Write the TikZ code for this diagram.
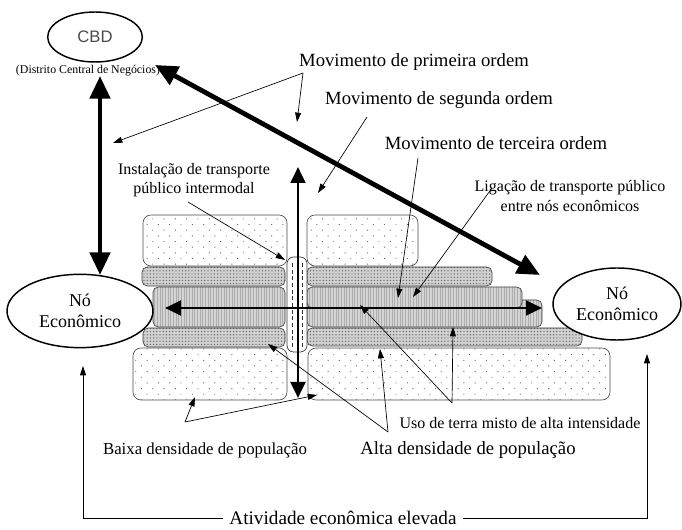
\documentclass[tikz,border=0pt]{standalone}
\usepackage{fontspec}
\setmainfont{Liberation Serif}
\newfontfamily\cbdfont{Liberation Sans}
\usetikzlibrary{shapes,arrows.meta,patterns.meta}
\tikzstyle{lowblock} = [draw=black!70, line width=0.5pt, rounded corners=6pt,
   preaction={fill=white}, pattern={Dots[distance=6pt,radius=0.5pt,angle=45]},
   pattern color=black!60]
\tikzstyle{denseblock} = [draw=black!75, line width=0.5pt, rounded corners=4pt,
   preaction={fill=black!18}, pattern={Dots[distance=2.4pt,radius=0.55pt]},
   pattern color=black!60]
\tikzstyle{grayblock} = [draw=black!75, line width=0.5pt, rounded corners=4pt,
   preaction={fill=black!17}, pattern={Lines[angle=90,distance=2pt,line width=0.3pt]},
   pattern color=black!32]
\tikzstyle{tube} = [draw=black!80, line width=0.5pt, rounded corners=5pt, fill=white]
\tikzstyle{place} = [draw, ellipse, line width=1.1pt, fill=white, align=center,
   font=\fontsize{13.5}{16}\selectfont, inner sep=0pt]
\tikzstyle{biglabel} = [font=\fontsize{14}{16}\selectfont, inner sep=1pt]
\tikzstyle{smalllabel} = [font=\fontsize{12}{14.5}\selectfont, align=center, inner sep=1pt]
\tikzstyle{pointer} = [draw, line width=0.5pt, -{Triangle[length=7pt,width=4.5pt]}]
\tikzstyle{heavy} = [draw, line width=3.6pt,
   {Triangle[length=17pt,width=15pt]}-{Triangle[length=17pt,width=15pt]}]
\tikzstyle{medium} = [draw, line width=2.2pt,
   {Triangle[length=12pt,width=11pt]}-{Triangle[length=12pt,width=11pt]}]
\begin{document}
\begin{tikzpicture}[x=0.75pt, y=-0.75pt]
\useasboundingbox (0,0) rectangle (682,530);
% Layers of land use
\draw [lowblock] (133,348) rectangle (287,400);
\draw [lowblock] (308,348) rectangle (610,400);
\draw [denseblock] (143,328) rectangle (285,347);
\draw [denseblock] (307,328) rectangle (582,346);
\draw [grayblock] (153,287) rectangle (285,327);
\draw [grayblock] (307,300) rectangle (542,327);
\draw [grayblock] (307,287) rectangle (522,308);
\draw [denseblock] (142,267) rectangle (285,286);
\draw [denseblock] (307,267) rectangle (492,286);
\draw [lowblock] (143,215) rectangle (287,266);
\draw [lowblock] (307,215) rectangle (418,266);
% Intermodal tube
\draw [tube] (287,257) rectangle (307,352);
\draw [black!80, dashed, dash pattern=on 3pt off 2pt] (292,263) -- (292,347);
\draw [black!80, dashed, dash pattern=on 3pt off 2pt] (302,263) -- (302,347);
% Place nodes
\node [place, minimum width=71pt, minimum height=37.5pt, font=\cbdfont\fontsize{12.5}{14}\selectfont, text=black!70] (cbd) at (95,37) {CBD};
\node [font=\fontsize{8.9}{10}\selectfont, inner sep=0pt] (cbdNote) at (88,71) {(Distrito Central de Negócios)};
\node [place, minimum width=109.5pt, minimum height=55pt] (nodeWest) at (80,311) {Nó\\Econômico};
\node [place, minimum width=96pt, minimum height=54pt] (nodeEast) at (617,304) {Nó\\Econômico};
\node [biglabel] (firstOrd) at (414,62) {Movimento de primeira ordem};
\node [biglabel] (secondOrd) at (439,100) {Movimento de segunda ordem};
\node [biglabel] (thirdOrd) at (496,143) {Movimento de terceira ordem};
\node [smalllabel] (linkLbl) at (570,196) {Ligação de transporte público\\entre nós econômicos};
\node [smalllabel] (interLbl) at (194,180) {Instalação de transporte\\público intermodal};
\node [smalllabel] (mixLbl) at (520,423) {Uso de terra misto de alta intensidade};
\node [biglabel] (highLbl) at (468,450) {Alta densidade de população};
\node [smalllabel, font=\fontsize{12.6}{14}\selectfont] (lowLbl) at (205,450) {Baixa densidade de população};
\node [biglabel, font=\fontsize{14.4}{16}\selectfont, inner xsep=5pt] (activity) at (343,518) {Atividade econômica elevada};
% Ends of connectors
\coordinate (cbdLow) at (100,76);
\coordinate (westTop) at (100,275);
\coordinate (diagStart) at (155,65);
\coordinate (diagEnd) at (540,275);
\coordinate (horWest) at (165,308);
\coordinate (horEast) at (542,308);
\coordinate (vertTop) at (298,167);
\coordinate (vertBot) at (298,398);
\coordinate (firstFork) at (303,73);
\coordinate (firstTipA) at (113,143);
\coordinate (firstTipB) at (297,122);
\coordinate (secondFrom) at (367,117);
\coordinate (secondTip) at (318,193);
\coordinate (thirdFrom) at (418,158);
\coordinate (thirdTip) at (398,298);
\coordinate (linkFrom) at (492,188);
\coordinate (linkTip) at (413,297);
\coordinate (interFrom) at (188,202);
\coordinate (interTip) at (285,260);
\coordinate (mixFork) at (452,403);
\coordinate (mixTipA) at (453,327);
\coordinate (mixTipB) at (360,305);
\coordinate (highFork) at (388,432);
\coordinate (highTipA) at (268,344);
\coordinate (highTipB) at (380,349);
\coordinate (lowFork) at (185,422);
\coordinate (lowTipA) at (195,397);
\coordinate (lowTipB) at (317,395);
\coordinate (actWest) at (83,366);
\coordinate (actEast) at (647,354);
% Draw edges
\path [pointer] (firstFork) -- (firstTipA);
\path [pointer] (firstFork) -- (firstTipB);
\path [pointer] (secondFrom) -- (secondTip);
\path [pointer] (thirdFrom) -- (thirdTip);
\path [pointer] (linkFrom) -- (linkTip);
\path [pointer] (interFrom) -- (interTip);
\path [pointer] (mixFork) -- (mixTipA);
\path [pointer] (mixFork) -- (mixTipB);
\path [pointer] (highFork) -- (highTipA);
\path [pointer] (highFork) -- (highTipB);
\path [pointer] (lowFork) -- (lowTipA);
\path [pointer] (lowFork) -- (lowTipB);
\path [pointer] (activity.west) -| (actWest);
\path [pointer] (activity.east) -| (actEast);
\path [medium] (horWest) -- (horEast);
\path [medium] (vertTop) -- (vertBot);
\path [heavy] (cbdLow) -- (westTop);
\path [heavy] (diagStart) -- (diagEnd);
\end{tikzpicture}
\end{document}
